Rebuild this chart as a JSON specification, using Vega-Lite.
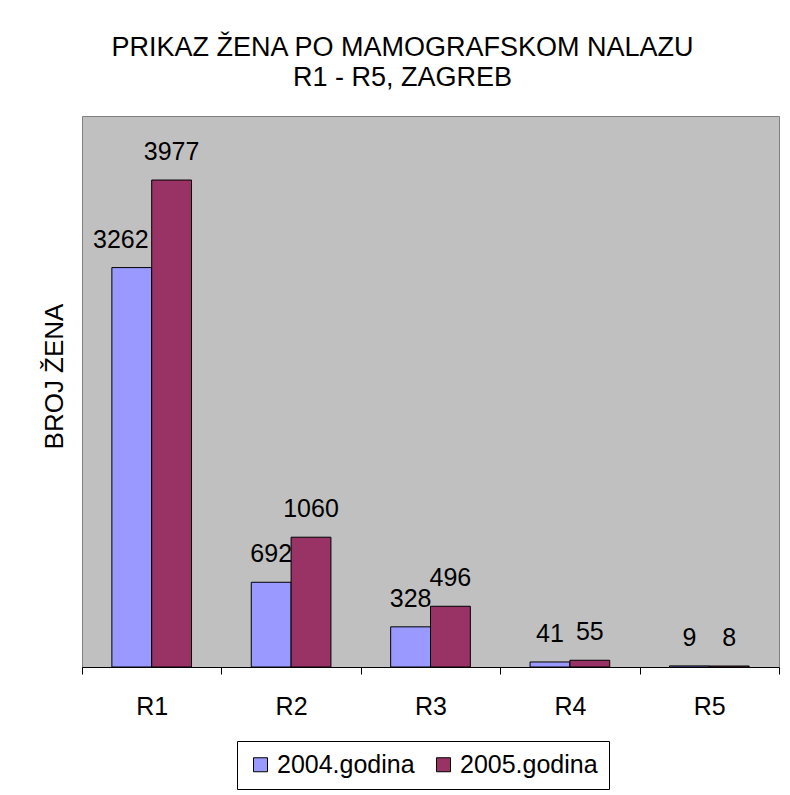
{
  "$schema": "https://vega.github.io/schema/vega-lite/v6.json",
  "width": 697,
  "height": 551,
  "autosize": {"type": "none"},
  "padding": {"left": 82, "top": 116, "right": 11, "bottom": 128},
  "background": "white",
  "title": {
    "text": ["PRIKAZ ŽENA PO MAMOGRAFSKOM NALAZU", "R1 - R5, ZAGREB"],
    "fontSize": 27,
    "font": "Liberation Sans",
    "fontWeight": "normal",
    "color": "black",
    "lineHeight": 30,
    "anchor": "middle",
    "dx": -28,
    "offset": 24
  },
  "data": {
    "values": [
      {"kategorija": "R1", "godina": "2004.godina", "broj": 3262},
      {"kategorija": "R1", "godina": "2005.godina", "broj": 3977},
      {"kategorija": "R2", "godina": "2004.godina", "broj": 692},
      {"kategorija": "R2", "godina": "2005.godina", "broj": 1060},
      {"kategorija": "R3", "godina": "2004.godina", "broj": 328},
      {"kategorija": "R3", "godina": "2005.godina", "broj": 496},
      {"kategorija": "R4", "godina": "2004.godina", "broj": 41},
      {"kategorija": "R4", "godina": "2005.godina", "broj": 55},
      {"kategorija": "R5", "godina": "2004.godina", "broj": 9},
      {"kategorija": "R5", "godina": "2005.godina", "broj": 8}
    ]
  },
  "encoding": {
    "x": {
      "field": "kategorija",
      "type": "nominal",
      "sort": null,
      "scale": {"paddingInner": 0, "paddingOuter": 0},
      "axis": {
        "title": null,
        "labelAngle": 0,
        "labelFontSize": 25,
        "labelFont": "Liberation Sans",
        "labelColor": "black",
        "labelPadding": 20,
        "tickBand": "extent",
        "tickSize": 7,
        "tickColor": "black",
        "domainColor": "black",
        "grid": false
      }
    },
    "xOffset": {
      "field": "godina",
      "type": "nominal",
      "scale": {"paddingInner": 0, "paddingOuter": 0.75}
    },
    "y": {
      "field": "broj",
      "type": "quantitative",
      "scale": {"domain": [0, 4500], "nice": false},
      "axis": {
        "title": "BROJ ŽENA",
        "labels": false,
        "ticks": false,
        "domain": false,
        "grid": false,
        "titleFontSize": 26,
        "titleFont": "Liberation Sans",
        "titleFontWeight": "normal",
        "titleColor": "black",
        "titleAngle": 270,
        "titleX": -20,
        "titleY": 260,
        "titleBaseline": "alphabetic",
        "titleAlign": "center"
      }
    }
  },
  "layer": [
    {
      "mark": {"type": "bar", "stroke": "black", "strokeWidth": 1},
      "encoding": {
        "color": {
          "field": "godina",
          "type": "nominal",
          "scale": {"domain": ["2004.godina", "2005.godina"], "range": ["#9999FF", "#993366"]},
          "legend": {
            "orient": "none",
            "legendX": 155,
            "legendY": 625,
            "direction": "horizontal",
            "title": null,
            "strokeColor": "black",
            "fillColor": "white",
            "padding": 11,
            "symbolType": "square",
            "symbolSize": 196,
            "symbolStrokeColor": "black",
            "symbolStrokeWidth": 1,
            "symbolOpacity": 1,
            "labelFontSize": 25,
            "labelFont": "Liberation Sans",
            "labelColor": "black",
            "labelOffset": 4,
            "columnPadding": 16
          }
        }
      }
    },
    {
      "transform": [{"filter": "datum.broj != 3262"}],
      "mark": {"type": "text", "dy": -20, "baseline": "alphabetic", "fontSize": 25, "font": "Liberation Sans", "color": "black"},
      "encoding": {"text": {"field": "broj", "type": "quantitative"}}
    },
    {
      "transform": [{"filter": "datum.broj == 3262"}],
      "mark": {"type": "text", "dy": -20, "dx": -11, "baseline": "alphabetic", "fontSize": 25, "font": "Liberation Sans", "color": "black"},
      "encoding": {"text": {"field": "broj", "type": "quantitative"}}
    }
  ],
  "config": {
    "view": {"fill": "#C0C0C0", "stroke": "#808080", "strokeWidth": 1}
  }
}
